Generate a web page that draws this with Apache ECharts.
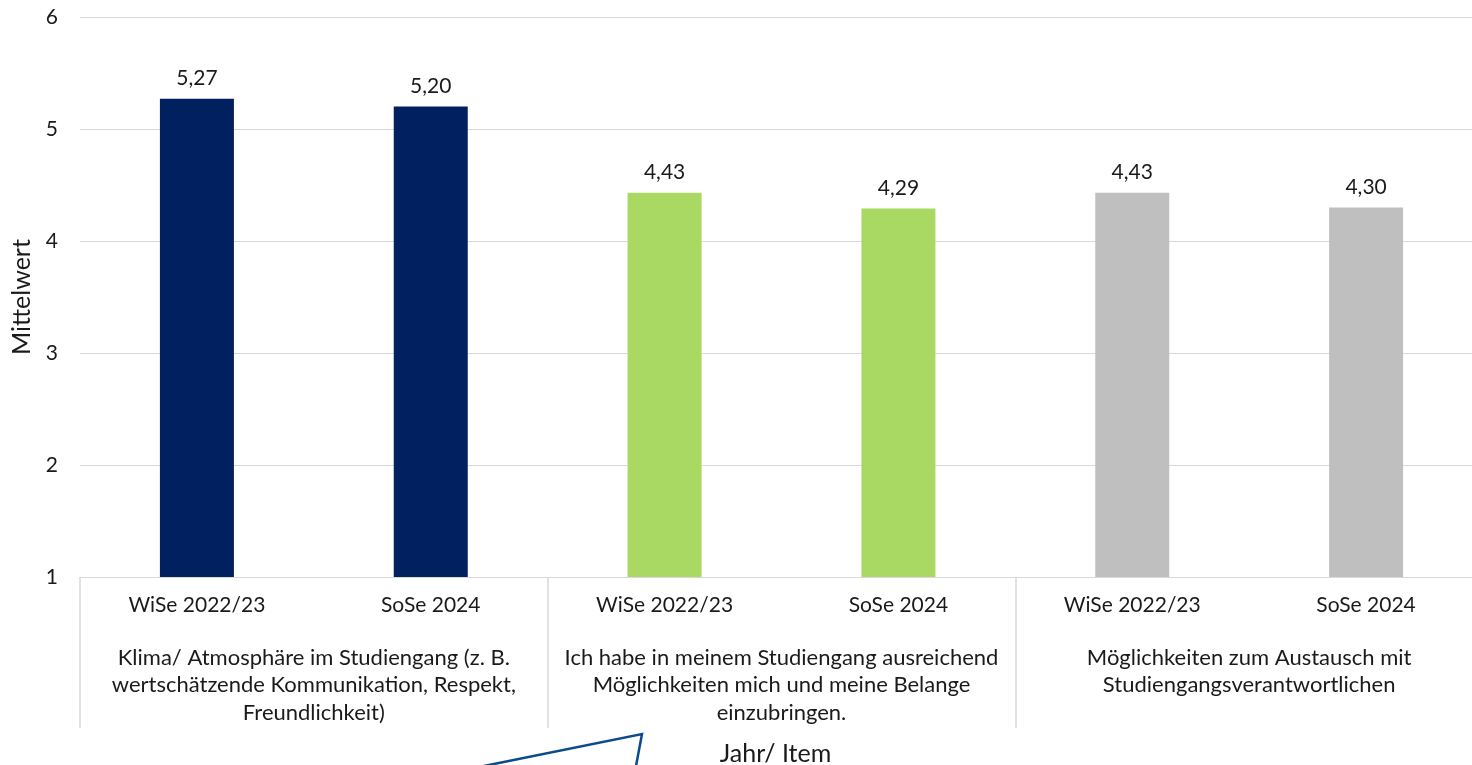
<!DOCTYPE html>
<html>
<head>
<meta charset="utf-8">
<style>
  html, body { margin: 0; padding: 0; background: #ffffff; overflow: hidden; }
  #chart { width: 1472px; height: 765px; }
</style>
<script src="https://cdn.jsdelivr.net/npm/echarts@6/dist/echarts.min.js"></script>
</head>
<body>
<div id="chart"></div>
<script>
// ---- data ----
const periods = ['WiSe 2022/23', 'SoSe 2024', 'WiSe 2022/23', 'SoSe 2024', 'WiSe 2022/23', 'SoSe 2024'];
const items = [
  'Klima/ Atmosphäre im Studiengang (z. B.\nwertschätzende Kommunikation, Respekt,\nFreundlichkeit)',
  'Ich habe in meinem Studiengang ausreichend\nMöglichkeiten mich und meine Belange\neinzubringen.',
  'Möglichkeiten zum Austausch mit\nStudiengangsverantwortlichen'
];
const values = [5.27, 5.20, 4.43, 4.29, 4.43, 4.30];
const itemOfBar = [0, 0, 1, 1, 2, 2];
const yTicks = [1, 2, 3, 4, 5, 6];

// ---- style ----
const itemColors = ['#002060', '#a9d962', '#bfbfbf'];
const FONT = 'Lato';
const FS = 21;
const FS_GROUP = 22;
const FS_TITLE = 25;
const TXT = '#1a1a1a';
const GRID = '#d9d9d9';

const chart = echarts.init(document.getElementById('chart'), null, { renderer: 'canvas' });

chart.setOption({
  animation: false,
  backgroundColor: '#ffffff',
  textStyle: { fontFamily: FONT },
  grid: { left: 80, width: 1403, top: 17, height: 560, containLabel: false, outerBoundsMode: 'none' },
  yAxis: {
    type: 'value',
    min: yTicks[0],
    max: yTicks[yTicks.length - 1],
    interval: 1,
    name: 'Mittelwert',
    nameLocation: 'middle',
    nameRotate: 90,
    nameGap: 45,
    nameTextStyle: { fontFamily: FONT, fontSize: FS_TITLE, color: TXT },
    axisLine: { show: false },
    axisTick: { show: false },
    axisLabel: { fontFamily: FONT, fontSize: FS, color: TXT, margin: 22 },
    splitLine: { lineStyle: { color: GRID, width: 1 } }
  },
  xAxis: [
    {
      type: 'category',
      data: periods,
      position: 'bottom',
      axisLine: { lineStyle: { color: GRID, width: 1 } },
      axisTick: { show: false },
      axisLabel: { interval: 0, fontFamily: FONT, fontSize: FS, color: TXT, margin: 18 }
    },
    {
      type: 'category',
      data: items,
      position: 'bottom',
      axisLine: { show: false },
      axisTick: { show: true, interval: 0, length: 151, lineStyle: { color: GRID, width: 1.5 } },
      axisLabel: { interval: 0, fontFamily: FONT, fontSize: FS_GROUP, color: TXT, margin: 67, lineHeight: 27.5, align: 'center' },
      name: 'Jahr/ Item',
      nameLocation: 'middle',
      nameGap: 164,
      nameTextStyle: { fontFamily: FONT, fontSize: FS_TITLE, color: TXT, padding: [0, 12, 0, 0] }
    }
  ],
  series: [
    {
      type: 'bar',
      xAxisIndex: 0,
      barWidth: 74,
      data: values.map((v, i) => ({ value: v, itemStyle: { color: itemColors[itemOfBar[i]] } })),
      label: {
        show: true,
        position: 'top',
        distance: 10,
        fontFamily: FONT,
        fontSize: FS,
        color: TXT,
        formatter: p => p.value.toFixed(2).replace('.', ',')
      }
    }
  ],
  graphic: [
    {
      type: 'polyline',
      silent: true,
      shape: { points: [[484, 766], [642, 734], [636, 766]] },
      style: { stroke: '#0b4a8b', lineWidth: 2.5, fill: null }
    }
  ]
});
</script>
</body>
</html>
